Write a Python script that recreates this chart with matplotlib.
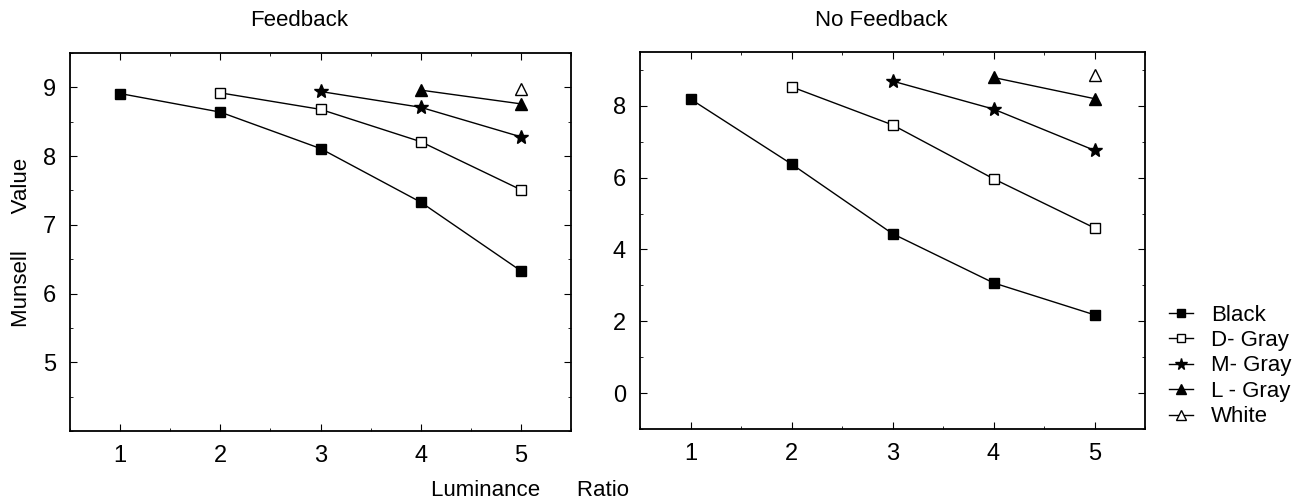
import numpy as np
import matplotlib
matplotlib.use("Agg")
import matplotlib.pyplot as plt
from matplotlib.ticker import MultipleLocator

plt.rcParams['font.family'] = ['Liberation Sans', 'DejaVu Sans']

ratio = [1, 2, 3, 4, 5]
series_names = ["Black", "D- Gray", "M- Gray", "L - Gray", "White"]

# Feedback panel (values start at the ratio index shown)
fb_black = [8.91, 8.64, 8.11, 7.33, 6.33]
fb_dgray = [8.92, 8.68, 8.21, 7.51]
fb_mgray = [8.94, 8.71, 8.28]
fb_lgray = [8.96, 8.76]
fb_white = [8.97]

# No feedback panel
nf_black = [8.19, 6.38, 4.44, 3.07, 2.18]
nf_dgray = [8.53, 7.47, 5.97, 4.60]
nf_mgray = [8.69, 7.91, 6.76]
nf_lgray = [8.79, 8.20]
nf_white = [8.86]

markers = ['s', 's', '*', '^', '^']
fills = ['black', 'white', 'black', 'black', 'white']
msizes = [7, 7, 10, 8, 8]

fig = plt.figure(figsize=(13.01, 5.04), dpi=100)
ax1 = fig.add_axes([70 / 1301, 1 - 431 / 504, 501 / 1301, 378 / 504])
ax2 = fig.add_axes([640 / 1301, 1 - 429 / 504, 505 / 1301, 377 / 504])


def draw(ax, data):
    handles = []
    for i, vals in enumerate(data):
        xs = ratio[len(ratio) - len(vals):]
        h, = ax.plot(xs, vals, color='black', lw=1.0, marker=markers[i],
                     markersize=msizes[i], markerfacecolor=fills[i],
                     markeredgecolor='black', markeredgewidth=1.0,
                     label=series_names[i])
        handles.append(h)
    ax.set_xlim(0.5, 5.5)
    ax.set_xticks(ratio)
    ax.tick_params(axis='both', which='both', direction='in', top=True, right=True,
                   labelsize=17, pad=10)
    ax.tick_params(which='major', length=5, width=0.8)
    ax.tick_params(which='minor', length=2.5, width=0.6)
    for s in ax.spines.values():
        s.set_linewidth(1.3)
    return handles


handles = draw(ax1, [fb_black, fb_dgray, fb_mgray, fb_lgray, fb_white])
ax1.set_ylim(4.0, 9.5)
ax1.set_yticks([5, 6, 7, 8, 9])
ax1.yaxis.set_minor_locator(MultipleLocator(0.5))
ax1.xaxis.set_minor_locator(MultipleLocator(0.5))

draw(ax2, [nf_black, nf_dgray, nf_mgray, nf_lgray, nf_white])
ax2.set_ylim(-1.0, 9.5)
ax2.set_yticks([0, 2, 4, 6, 8])
ax2.yaxis.set_minor_locator(MultipleLocator(1))
ax2.xaxis.set_minor_locator(MultipleLocator(0.5))

fig.text(299 / 1301, 1 - 20 / 504, "Feedback", ha='center', va='center', fontsize=16)
fig.text(881 / 1301, 1 - 20 / 504, "No Feedback", ha='center', va='center', fontsize=16)
fig.text(530 / 1301, 1 - 491 / 504, "Luminance      Ratio", ha='center', va='center', fontsize=16)
fig.text(22 / 1301, 1 - 242 / 504, "Munsell      Value", ha='center', va='center',
         rotation=90, fontsize=16)

fig.legend(handles=handles, loc='center left', bbox_to_anchor=(1160 / 1301, 1 - 366 / 504),
           frameon=False, fontsize=16, handlelength=1.1, handletextpad=0.8,
           labelspacing=0.2, borderaxespad=0, markerscale=0.85)

fig.savefig("out.png", dpi=100)
